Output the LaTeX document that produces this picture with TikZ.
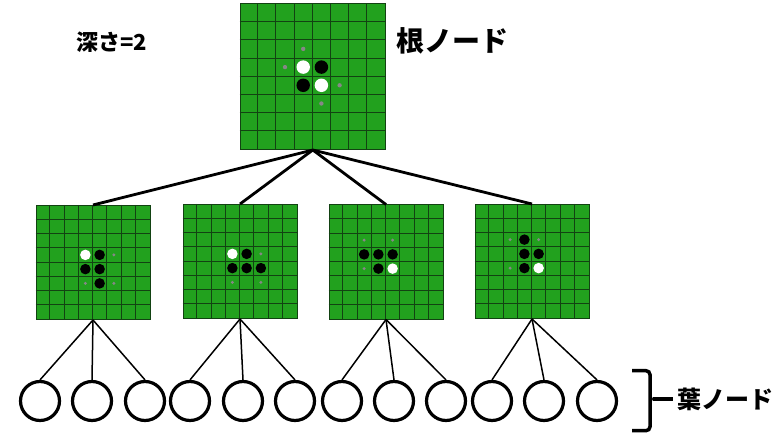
\documentclass[tikz,border=0pt]{standalone}
\usepackage{fontspec}
\newfontfamily\jpfont{Noto Sans CJK JP}
\usetikzlibrary{positioning}

\definecolor{boardgreen}{RGB}{34,161,30}
\definecolor{gridgreen}{RGB}{18,66,18}
\definecolor{hintgray}{RGB}{135,135,135}

% #1 name, #2 centre, #3 cell size, #4 black, #5 white, #6 hints
\newcommand{\drawboard}[6]{%
  \node[boardbox,minimum size=8*#3] (#1) at #2 {};
  \begin{scope}[shift={(#1.north west)},x=#3,y=-#3]
    \foreach \k in {1,...,7}
      {\draw[gridline] (\k,0) -- (\k,8); \draw[gridline] (0,\k) -- (8,\k);}
    \foreach \ro/\co in {#4} \fill[black] (\co+0.5,\ro+0.5) circle (0.37);
    \foreach \ro/\co in {#5} \fill[white] (\co+0.5,\ro+0.5) circle (0.37);
    \foreach \ro/\co in {#6} \fill[hintgray] (\co+0.5,\ro+0.5) circle (0.12);
  \end{scope}}

\begin{document}
\begin{tikzpicture}[x=1pt,y=-1pt,
      boardbox/.style={draw=gridgreen,fill=boardgreen,rectangle,line width=1pt,inner sep=0},
      gridline/.style={gridgreen,line width=0.9pt},
      treeline/.style={line width=2.8pt},
      leafline/.style={line width=1.5pt},
      leaf/.style={draw,circle,line width=3.2pt,minimum size=39pt,inner sep=0},
      bracket/.style={line width=3.5pt,rounded corners=4pt},
      labeltext/.style={font=\jpfont\bfseries,anchor=west,inner sep=0}]
      \useasboundingbox (0,0) rectangle (775,435);

      % Boards
      \drawboard{root}{(312.8,76.7)}{18.2pt}{3/4,4/3}{3/3,4/4}{2/3,3/2,4/5,5/4}
      \drawboard{c1}{(93,262.5)}{14.25pt}{3/4,4/3,4/4,5/4}{3/3}{3/5,5/3,5/5}
      \drawboard{c2}{(240,261.5)}{14.25pt}{3/4,4/3,4/4,4/5}{3/3}{3/5,5/3,5/5}
      \drawboard{c3}{(386,262)}{14.25pt}{3/2,3/3,3/4,4/3}{4/4}{2/2,2/4,4/2}
      \drawboard{c4}{(532,261.5)}{14.25pt}{2/3,3/3,3/4,4/3}{4/4}{2/2,2/4,4/2}

      % Leaves
      \foreach \n/\x in {1/40,2/92,3/145,4/190,5/243,6/295,7/342,8/394,9/446,10/492,11/544,12/597}
        \node[leaf] (leaf\n) at (\x,401) {};

      % Labels
      \node[labeltext,font=\jpfont\bfseries\fontsize{22}{24}\selectfont] (depth) at (76,42) {深さ=2};
      \node[labeltext,font=\jpfont\bfseries\fontsize{28}{30}\selectfont] (rootlabel) at (396,41) {根ノード};
      \node[labeltext,font=\jpfont\bfseries\fontsize{24}{26}\selectfont] (leaflabel) at (677,399) {葉ノード};

      % Lines
      \foreach \b in {1,...,4}
        \draw[treeline] (root.south) -- (c\b.north);
      \foreach \b/\l in {1/1,1/2,1/3,2/4,2/5,2/6,3/7,3/8,3/9,4/10,4/11,4/12}
        \draw[leafline] (c\b.south) -- (leaf\l.north);

      % Brace
      \coordinate (bracetip) at (653,399);
      \draw[bracket] (632,370.7) -- (650,370.7) -- (650,430.7) -- (632,430.7);
      \fill (650,393) -- (bracetip) -- (650,405) -- cycle;
      \draw[line width=4pt] (bracetip) -- ([xshift=-4pt]leaflabel.west);

    \end{tikzpicture}
\end{document}
